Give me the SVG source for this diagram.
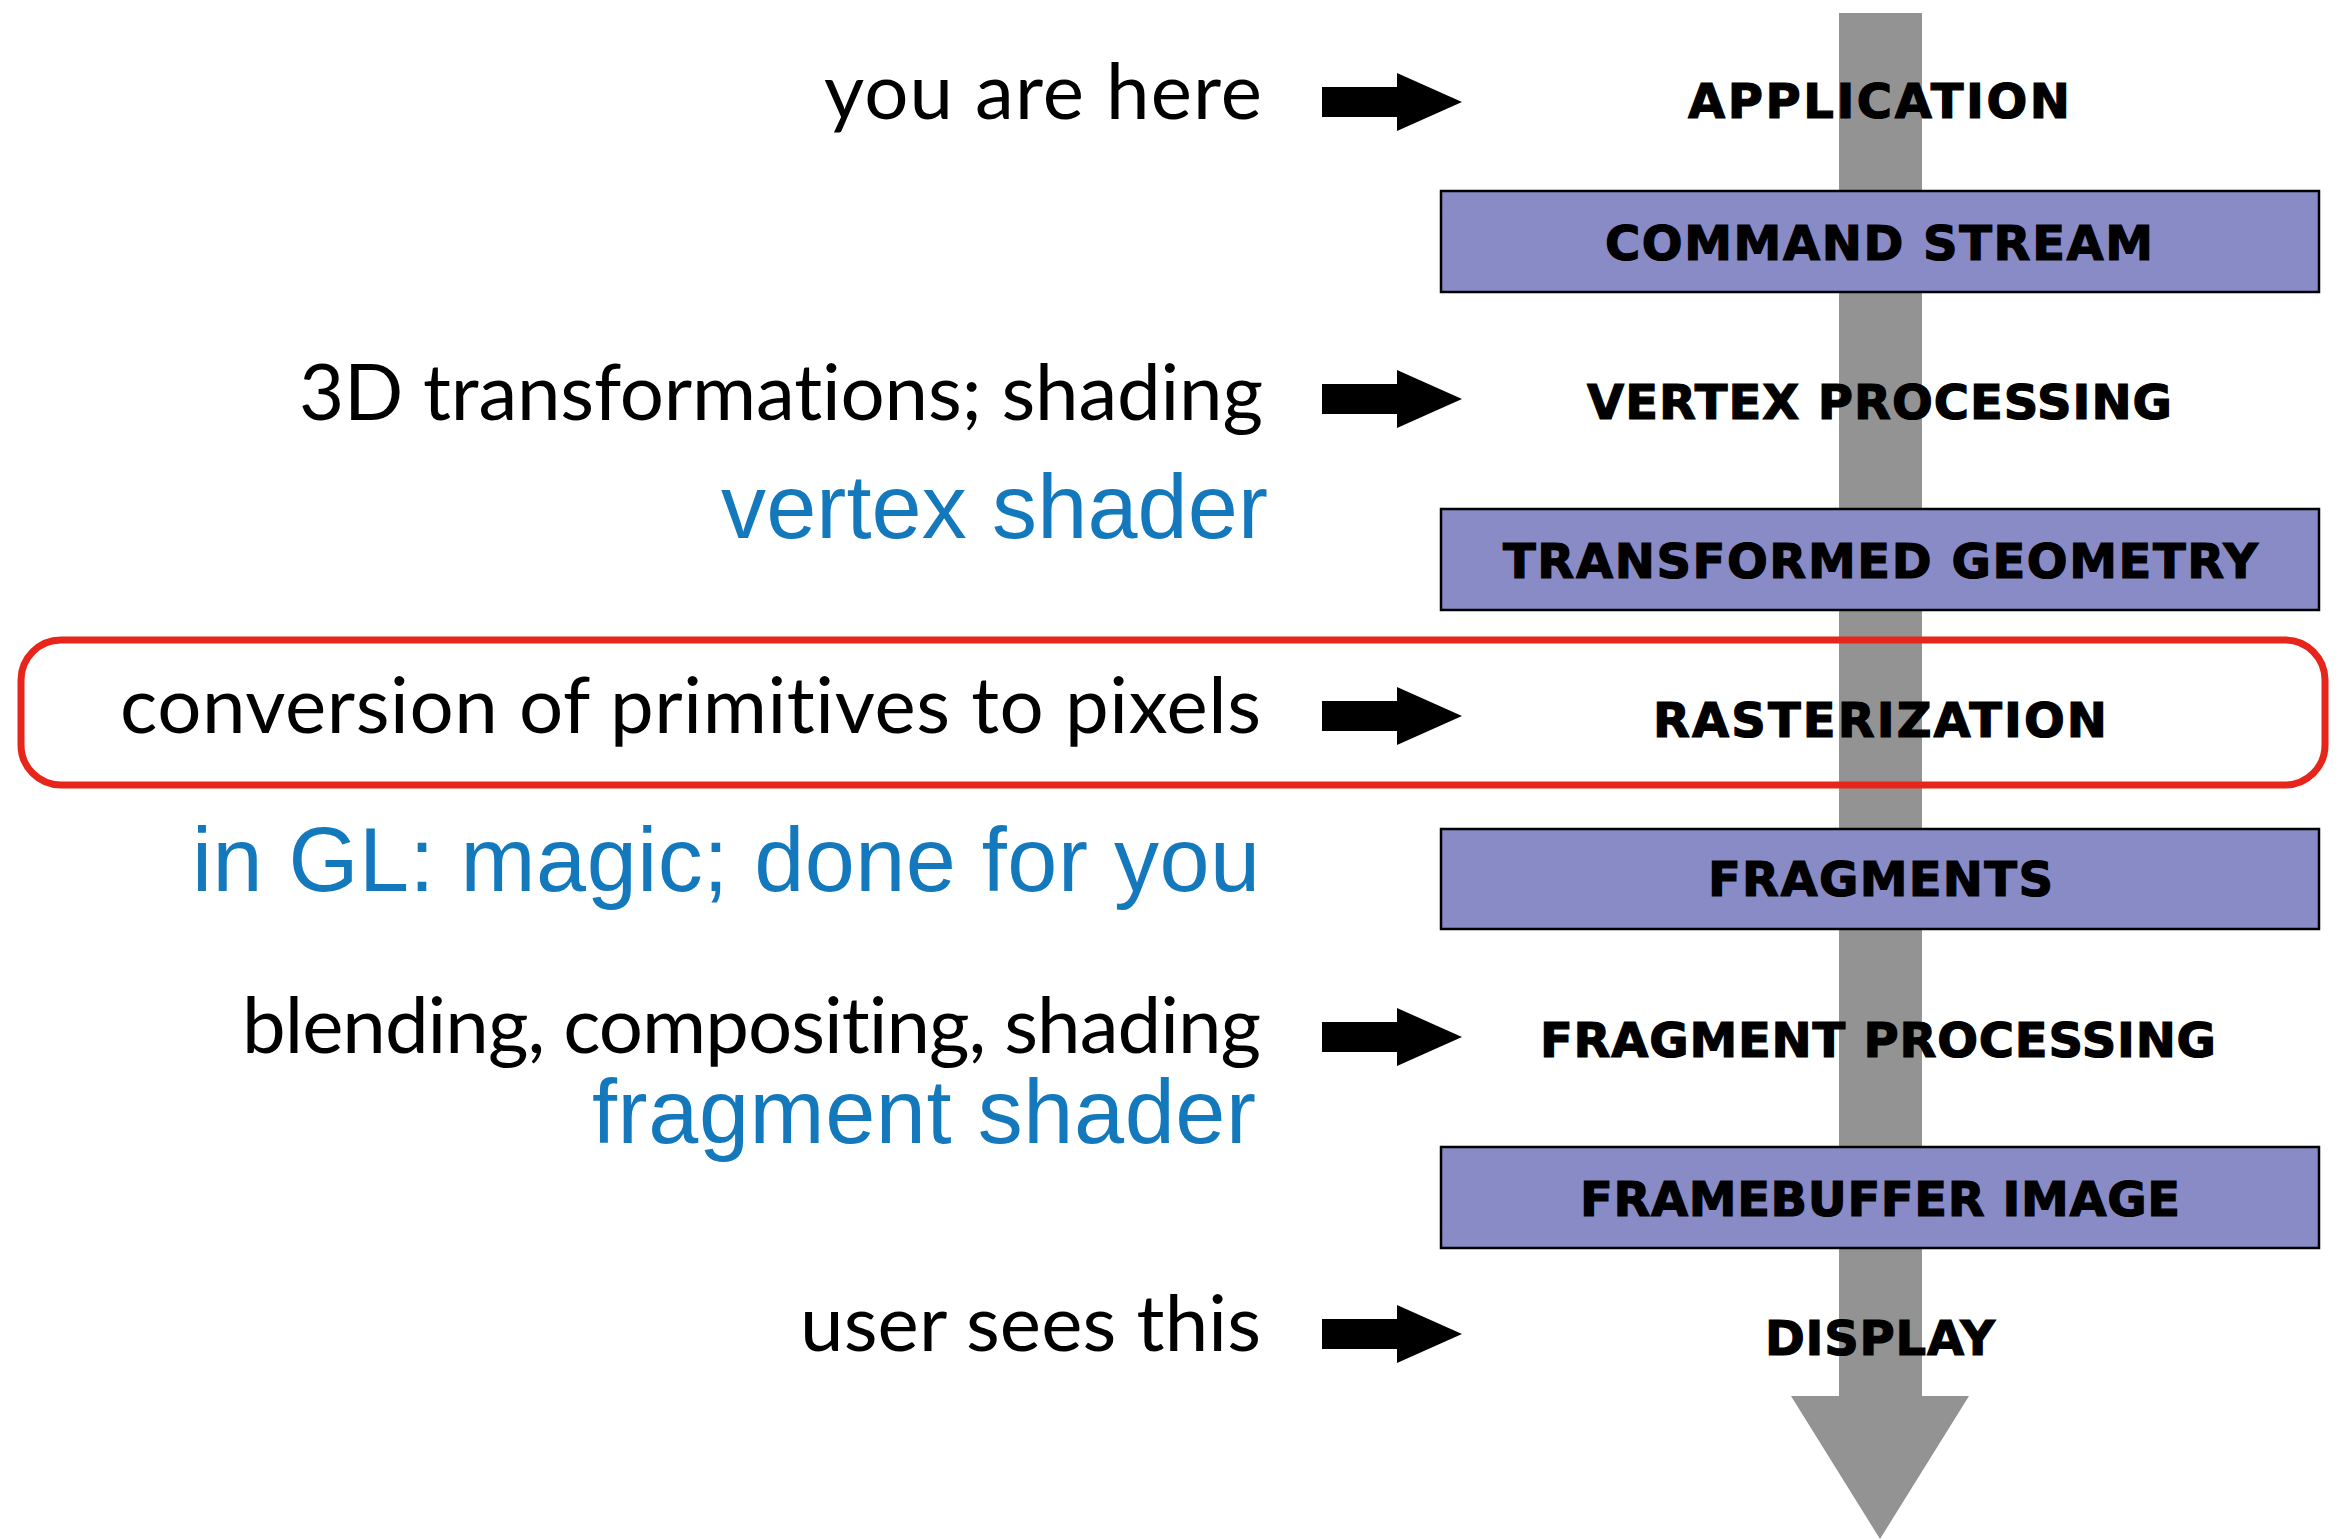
<svg xmlns="http://www.w3.org/2000/svg" width="2345" height="1539" viewBox="0 0 2345 1539">
<style>
.stage{font-family:"DejaVu Sans",sans-serif;font-weight:bold;font-size:48px;fill:#000;stroke:#000;stroke-width:1.2}
.note{font-family:Lato,"Open Sans",sans-serif;font-size:78px;fill:#000;font-variant-ligatures:none;font-feature-settings:"liga" 0,"clig" 0}
.blue{font-family:"Liberation Sans",Arial,sans-serif;font-size:90px;fill:#1378bc}
.box{fill:#898bc6;stroke:#000;stroke-width:2.5}
.ptr{fill:#000}
</style>
<defs>
<path id="ptr" d="M0,-15 H75 V-29 L140,0 L75,29 V15 H0 Z"/>
</defs>
<rect width="2345" height="1539" fill="#fff"/>
<g id="connectors">
<path id="pipeline" d="M1839,13 H1922 V1396 H1969 L1880,1539 L1791,1396 H1839 Z" fill="#939393"/>
<use href="#ptr" class="ptr" x="1322" y="102"/>
<use href="#ptr" class="ptr" x="1322" y="399"/>
<use href="#ptr" class="ptr" x="1322" y="716"/>
<use href="#ptr" class="ptr" x="1322" y="1037"/>
<use href="#ptr" class="ptr" x="1322" y="1334"/>
</g>
<g id="highlight">
<rect x="21" y="640" width="2304" height="145" rx="40" ry="40" fill="none" stroke="#e8251b" stroke-width="7"/>
</g>
<g id="application"><text class="stage" x="1688" y="118" textLength="382" lengthAdjust="spacing">APPLICATION</text></g>
<g id="command-stream"><rect class="box" x="1441" y="191" width="878" height="101"/><text class="stage" x="1605" y="260" textLength="548" lengthAdjust="spacing">COMMAND STREAM</text></g>
<g id="vertex-processing"><text class="stage" x="1587" y="419" textLength="585" lengthAdjust="spacing">VERTEX PROCESSING</text></g>
<g id="transformed-geometry"><rect class="box" x="1441" y="509" width="878" height="101"/><text class="stage" x="1503" y="578" textLength="755" lengthAdjust="spacing">TRANSFORMED GEOMETRY</text></g>
<g id="rasterization"><text class="stage" x="1653" y="737" textLength="454" lengthAdjust="spacing">RASTERIZATION</text></g>
<g id="fragments"><rect class="box" x="1441" y="829" width="878" height="100"/><text class="stage" x="1708" y="896" textLength="345" lengthAdjust="spacing">FRAGMENTS</text></g>
<g id="fragment-processing"><text class="stage" x="1540" y="1057" textLength="676" lengthAdjust="spacing">FRAGMENT PROCESSING</text></g>
<g id="framebuffer-image"><rect class="box" x="1441" y="1147" width="878" height="101"/><text class="stage" x="1580" y="1216" textLength="600" lengthAdjust="spacing">FRAMEBUFFER IMAGE</text></g>
<g id="display"><text class="stage" x="1765" y="1355" textLength="230" lengthAdjust="spacing">DISPLAY</text></g>
<g id="labels">
<text class="note" x="824" y="119" textLength="438" lengthAdjust="spacing">you are here</text>
<text class="note" x="299" y="420" textLength="964" lengthAdjust="spacing">3D transformations; shading</text>
<text class="blue" x="721" y="538" textLength="547" lengthAdjust="spacing">vertex shader</text>
<text class="note" x="120" y="733" textLength="1141" lengthAdjust="spacing">conversion of primitives to pixels</text>
<text class="blue" x="192" y="891" textLength="1068" lengthAdjust="spacing">in GL: magic; done for you</text>
<text class="note" x="242" y="1053" textLength="1019" lengthAdjust="spacing">blending, compositing, shading</text>
<text class="blue" x="592" y="1143" textLength="664" lengthAdjust="spacing">fragment shader</text>
<text class="note" x="800" y="1351" textLength="461" lengthAdjust="spacing">user sees this</text>
</g>
</svg>
